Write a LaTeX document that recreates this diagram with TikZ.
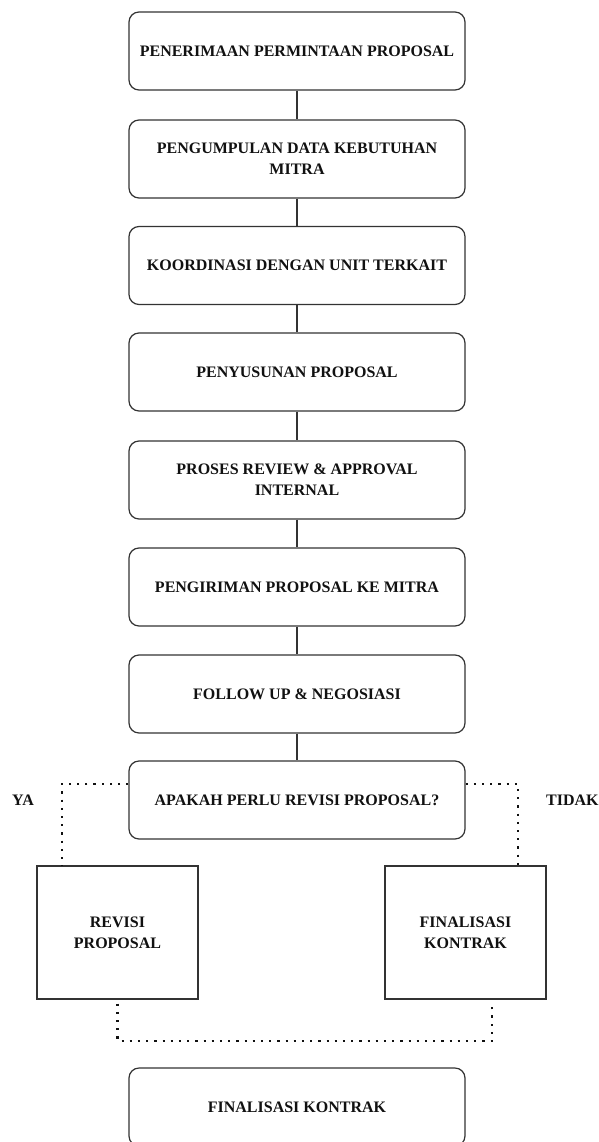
\documentclass[tikz,border=0pt]{standalone}
\usepackage{fontspec}
\setmainfont{Liberation Serif}
\definecolor{linecol}{HTML}{333333}
\definecolor{txtcol}{HTML}{111111}
\begin{document}
\begin{tikzpicture}[x=1pt,y=-1pt,
  every node/.style={text=txtcol, font=\bfseries\fontsize{16}{21}\selectfont, align=center, inner sep=0pt},
  stepbox/.style={draw=linecol, line width=1.2pt, rounded corners=10pt, minimum width=336pt, minimum height=78pt},
  sqbox/.style={draw=linecol, line width=1.2pt, minimum width=161pt, minimum height=133pt},
  link/.style={draw=linecol, line width=1.2pt},
  dotline/.style={draw=txtcol, line width=2.2pt, dash pattern=on 2.2pt off 6pt},
  lbl/.style={anchor=west}]
\useasboundingbox (0,0) rectangle (598,1142);
\fill[white] (0,0) rectangle (598,1142);
\node[stepbox] (b1) at (297,51) {PENERIMAAN PERMINTAAN PROPOSAL};
\node[stepbox] (b2) at (297,159) {PENGUMPULAN DATA KEBUTUHAN\\MITRA};
\node[stepbox] (b3) at (297,265.5) {KOORDINASI DENGAN UNIT TERKAIT};
\node[stepbox] (b4) at (297,372) {PENYUSUNAN PROPOSAL};
\node[stepbox] (b5) at (297,480) {PROSES REVIEW \& APPROVAL\\INTERNAL};
\node[stepbox] (b6) at (297,587) {PENGIRIMAN PROPOSAL KE MITRA};
\node[stepbox] (b7) at (297,694) {FOLLOW UP \& NEGOSIASI};
\node[stepbox] (dec) at (297,800) {APAKAH PERLU REVISI PROPOSAL?};
\node[sqbox] (rev) at (117.5,932.5) {REVISI\\PROPOSAL};
\node[sqbox] (fin) at (465.5,932.5) {FINALISASI\\KONTRAK};
\node[stepbox] (end) at (297,1107) {FINALISASI KONTRAK};
\node[lbl] (ya) at (12,800) {YA};
\node[lbl] (tidak) at (546,800) {TIDAK};
\draw[link] (b1) -- (b2);
\draw[link] (b2) -- (b3);
\draw[link] (b3) -- (b4);
\draw[link] (b4) -- (b5);
\draw[link] (b5) -- (b6);
\draw[link] (b6) -- (b7);
\draw[link] (b7) -- (dec);
\draw[dotline] ([yshift=16pt]dec.west) -| ([xshift=-55.5pt]rev.north);
\draw[dotline] ([yshift=16pt]dec.east) -| ([xshift=52.5pt]fin.north);
\coordinate (rb) at ([yshift=-4pt]rev.south);
\coordinate (fb) at ([xshift=26.5pt,yshift=-4pt]fin.south);
\draw[dotline] (rb) -- ++(0,37) -| (fb);
\end{tikzpicture}
\end{document}
